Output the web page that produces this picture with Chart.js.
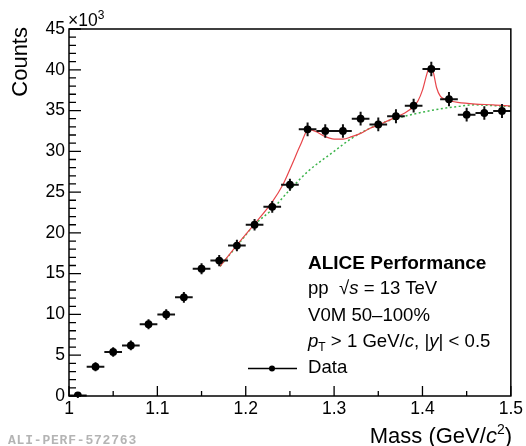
<!DOCTYPE html>
<html><head><meta charset="utf-8">
<script src="https://cdn.jsdelivr.net/npm/chart.js@4/dist/chart.umd.min.js"></script>
<style>
html,body{margin:0;padding:0;background:#fff;}
#wrap{position:relative;width:526px;height:446px;overflow:hidden;font-family:"Liberation Sans",Arial,Helvetica,sans-serif;background:#fff;}
canvas{position:absolute;left:0;top:0;}
.t{position:absolute;white-space:nowrap;line-height:1;color:#000;}
.ann{left:308px;font-size:18.6px;}
sub{font-size:12px;vertical-align:-4px;line-height:0;}
sup{font-size:12px;vertical-align:7px;line-height:0;}
</style></head>
<body><div id="wrap">
<canvas id="c" width="526" height="446"></canvas>
<div class="t" style="left:9.4px;top:127px;width:100px;font-size:22px;text-align:right;transform:rotate(-90deg);transform-origin:0 0;">Counts</div>
<div class="t" style="right:14px;top:424.5px;font-size:22px;">Mass (GeV/<i>c</i><sup style="font-size:14px;vertical-align:9px;">2</sup>)</div>
<div class="t" style="left:68px;top:11.5px;font-size:17.5px;">×10<sup>3</sup></div>
<div class="t ann" style="top:252.5px;font-weight:bold;font-size:19px;">ALICE Performance</div>
<div class="t ann" style="top:279px;">pp&nbsp; √<i>s</i> = 13 TeV</div>
<div class="t ann" style="top:305.5px;">V0M 50–100%</div>
<div class="t ann" style="top:331.5px;"><i>p</i><sub>T</sub> &gt; 1 GeV/<i>c</i>, |<i>y</i>| &lt; 0.5</div>
<div class="t ann" style="top:357.5px;">Data</div>
<div class="t" style="left:8px;top:434px;font-size:13px;font-family:'Liberation Mono',monospace;font-weight:bold;color:#b4b4b4;letter-spacing:0.8px;">ALI-PERF-572763</div>
</div>
<script>
// ---- data ----
const massBins = [1.01,1.03,1.05,1.07,1.09,1.11,1.13,1.15,1.17,1.19,1.21,1.23,1.25,1.27,1.29,1.31,1.33,1.35,1.37,1.39,1.41,1.43,1.45,1.47,1.49];
const counts   = [0.06,3.6,5.4,6.2,8.8,10.0,12.1,15.6,16.6,18.45,21.0,23.2,25.9,32.7,32.5,32.5,34.0,33.3,34.3,35.6,40.1,36.4,34.5,34.7,34.95];
const countErr = [0.3,0.55,0.58,0.6,0.62,0.64,0.66,0.68,0.68,0.7,0.7,0.72,0.74,0.85,0.82,0.82,0.84,0.84,0.85,0.85,0.88,0.86,0.84,0.84,0.85];
const binHalfWidth = 0.01;
const fitMass = [1.171,1.19,1.21,1.23,1.242,1.252,1.262,1.271,1.28,1.29,1.30,1.31,1.32,1.33,1.34,1.35,1.36,1.37,1.38,1.39,1.395,1.40,1.405,1.408,1.412,1.416,1.42,1.425,1.43,1.44,1.46,1.48,1.5];
const fitCounts = [15.9,18.5,21.1,23.8,25.9,28.3,30.8,32.7,32.4,31.8,31.5,31.5,31.8,32.2,32.8,33.2,33.7,34.2,34.7,35.5,36.2,37.5,39.5,40.4,39.8,37.8,36.8,36.4,36.2,36.0,35.8,35.7,35.55];
const bkgMass = [1.171,1.19,1.21,1.23,1.25,1.27,1.30,1.32,1.34,1.36,1.38,1.40,1.42,1.44,1.46,1.48,1.5];
const bkgCounts = [15.9,18.4,21.0,22.9,25.3,27.5,30.0,31.6,32.8,33.7,34.3,34.8,35.2,35.5,35.7,35.6,35.5];
const xTicks = [1,1.1,1.2,1.3,1.4,1.5];
const xTickLabels = ['1','1.1','1.2','1.3','1.4','1.5'];
const xMinorTicks = [1.05,1.15,1.25,1.35,1.45];
const yTicks = [0,5,10,15,20,25,30,35,40,45];
const yTickLabels = ['0','5','10','15','20','25','30','35','40','45'];

const FONT = '"Liberation Sans", Arial, Helvetica, sans-serif';

const errorBars = {
  id: 'errorBars',
  beforeDatasetDraw(chart, args) {
    if (args.index !== 0) return;
    const {ctx, scales: {x, y}} = chart;
    ctx.save();
    ctx.strokeStyle = '#111';
    ctx.lineWidth = 2;
    ctx.beginPath();
    massBins.forEach((m, i) => {
      const px = x.getPixelForValue(m), py = y.getPixelForValue(counts[i]);
      ctx.moveTo(x.getPixelForValue(m - binHalfWidth), py);
      ctx.lineTo(x.getPixelForValue(m + binHalfWidth), py);
      ctx.moveTo(px, y.getPixelForValue(counts[i] - countErr[i]));
      ctx.lineTo(px, y.getPixelForValue(counts[i] + countErr[i]));
    });
    ctx.stroke();
    ctx.restore();
  }
};

const frameTicks = {
  id: 'frameTicks',
  afterDraw(chart) {
    const {ctx, chartArea: a, scales: {x, y}} = chart;
    ctx.save();
    ctx.strokeStyle = '#000';
    ctx.lineWidth = 1.5;
    ctx.strokeRect(a.left, a.top, a.right - a.left, a.bottom - a.top);
    ctx.lineWidth = 1.3;
    ctx.beginPath();
    for (let v = 0; v <= 45; v++) {
      const p = y.getPixelForValue(v);
      const len = yTicks.includes(v) ? 12 : 7;
      ctx.moveTo(a.left, p); ctx.lineTo(a.left + len, p);
    }
    xTicks.forEach(v => { const p = x.getPixelForValue(v); ctx.moveTo(p, a.bottom); ctx.lineTo(p, a.bottom - 10); });
    xMinorTicks.forEach(v => { const p = x.getPixelForValue(v); ctx.moveTo(p, a.bottom); ctx.lineTo(p, a.bottom - 5); });
    ctx.stroke();
    // legend sample
    ctx.lineWidth = 1.5;
    ctx.beginPath(); ctx.moveTo(248, 368.5); ctx.lineTo(297, 368.5); ctx.stroke();
    ctx.fillStyle = '#000';
    ctx.beginPath(); ctx.arc(272, 368.5, 3, 0, Math.PI * 2); ctx.fill();
    ctx.restore();
  }
};

new Chart(document.getElementById('c'), {
  type: 'scatter',
  data: {
    datasets: [
      {
        label: 'Data',
        data: massBins.map((m, i) => ({x: m, y: counts[i]})),
        pointRadius: 3.9, pointBackgroundColor: '#000', pointBorderColor: '#000', pointBorderWidth: 0,
        showLine: false, order: 0
      },
      {
        label: 'Fit', type: 'line',
        data: fitMass.map((m, i) => ({x: m, y: fitCounts[i]})),
        borderColor: '#e8464b', borderWidth: 1.2, pointRadius: 0,
        cubicInterpolationMode: 'monotone', fill: false, order: 1
      },
      {
        label: 'Background', type: 'line',
        data: bkgMass.map((m, i) => ({x: m, y: bkgCounts[i]})),
        borderColor: '#3cb44b', borderWidth: 1.5, borderDash: [2, 2.5], pointRadius: 0,
        cubicInterpolationMode: 'monotone', fill: false, order: 2
      }
    ]
  },
  options: {
    responsive: false, animation: false, devicePixelRatio: 1,
    layout: {padding: {left: 0, top: 29, right: 15, bottom: 0}},
    plugins: {legend: {display: false}, tooltip: {enabled: false}},
    scales: {
      x: {
        type: 'linear', min: 1, max: 1.5,
        afterBuildTicks: s => { s.ticks = xTicks.map(v => ({value: v})); },
        afterFit: s => { s.height = 50; },
        ticks: {
          callback: v => xTickLabels[xTicks.indexOf(v)],
          font: {family: FONT, size: 17.5}, color: '#000', padding: 3,
          maxRotation: 0, autoSkip: false
        },
        grid: {display: false, drawTicks: false},
        border: {display: false}
      },
      y: {
        type: 'linear', min: 0, max: 45,
        afterBuildTicks: s => { s.ticks = yTicks.map(v => ({value: v})); },
        afterFit: s => { s.width = 69; },
        ticks: {
          callback: v => yTickLabels[yTicks.indexOf(v)],
          font: {family: FONT, size: 17.5}, color: '#000', padding: 4, autoSkip: false
        },
        grid: {display: false, drawTicks: false},
        border: {display: false}
      }
    }
  },
  plugins: [errorBars, frameTicks]
});
</script>
</body></html>
